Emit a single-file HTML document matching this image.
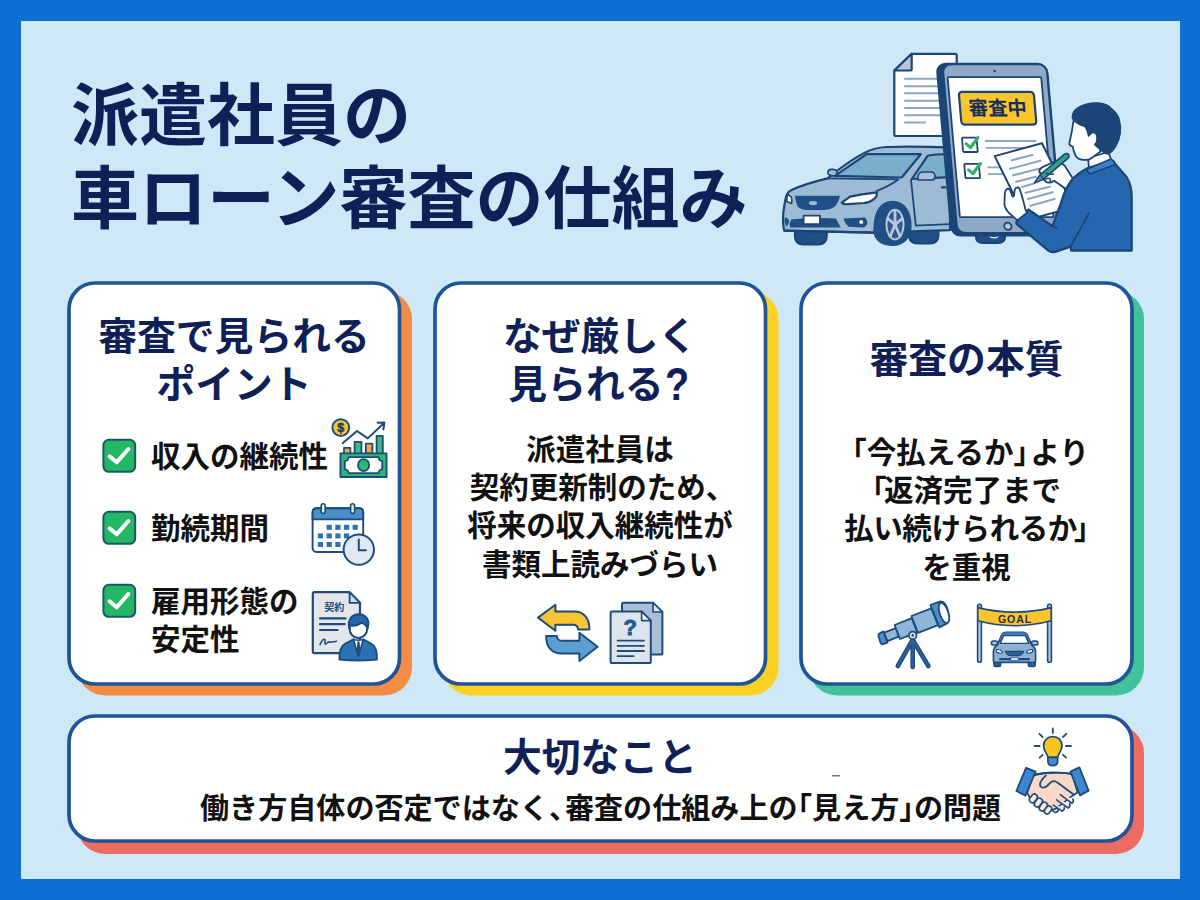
<!DOCTYPE html>
<html lang="ja">
<head>
<meta charset="utf-8">
<title>派遣社員の車ローン審査の仕組み</title>
<style>
html,body{margin:0;padding:0;}
body{width:1200px;height:900px;overflow:hidden;background:#0e6fd2;position:relative;
  font-family:"Liberation Sans","Noto Sans CJK JP",sans-serif;}
#stage{position:absolute;left:0;top:0;width:1200px;height:900px;overflow:hidden;}
#inner{position:absolute;left:20.5px;top:20.5px;width:1159px;height:858px;background:#cee8f8;}
svg#art{position:absolute;left:0;top:0;width:1200px;height:900px;}
.t{position:absolute;white-space:nowrap;font-weight:700;margin:0;}
.navy{color:#101f56;}
.blk{color:#111;}
.main{font-size:68px;line-height:83px;left:71px;letter-spacing:0;}
.h2{font-size:38.8px;line-height:47.5px;text-align:center;}
.body{font-size:29.5px;line-height:38.4px;text-align:center;}
.li{font-size:29.5px;line-height:38.2px;left:151px;}
.hl{margin-left:-0.5em;}
.hr{margin-right:-0.5em;}
.hc{margin-right:-0.45em;}
</style>
</head>
<body>
<div id="stage">
<div id="inner"></div>
<svg id="art" viewBox="0 0 1200 900" width="1200" height="900">
  <!-- card shadows -->
  <rect x="77" y="291" width="335" height="404.5" rx="28" fill="#f58c45"/>
  <rect x="443" y="291" width="335.5" height="404.5" rx="28" fill="#fdd024"/>
  <rect x="809" y="291" width="335" height="404.5" rx="28" fill="#41c29b"/>
  <rect x="77" y="725" width="1067" height="129" rx="28" fill="#ee6b62"/>
  <!-- cards -->
  <rect x="69" y="283" width="330.5" height="401" rx="26" fill="#fff" stroke="#1f5594" stroke-width="3.7"/>
  <rect x="435" y="283" width="330.5" height="401" rx="26" fill="#fff" stroke="#1f5594" stroke-width="3.7"/>
  <rect x="801" y="283" width="331" height="401" rx="26" fill="#fff" stroke="#1f5594" stroke-width="3.7"/>
  <rect x="69" y="716" width="1063" height="125" rx="26" fill="#fff" stroke="#1f5594" stroke-width="3.7"/>
  <!-- checkboxes -->
  <g id="checks" stroke-linecap="round" stroke-linejoin="round">
    <rect x="103.4" y="439.8" width="31.8" height="32" rx="5.5" fill="#22b864" stroke="#17596b" stroke-width="2"/>
    <path d="M109.6 456.3 L116.6 462.3 L128.4 449" fill="none" stroke="#fff" stroke-width="4"/>
    <rect x="103.4" y="511.8" width="31.8" height="32" rx="5.5" fill="#22b864" stroke="#17596b" stroke-width="2"/>
    <path d="M109.6 528.3 L116.6 534.3 L128.4 521" fill="none" stroke="#fff" stroke-width="4"/>
    <rect x="103.4" y="584.8" width="31.8" height="32" rx="5.5" fill="#22b864" stroke="#17596b" stroke-width="2"/>
    <path d="M109.6 601.3 L116.6 607.3 L128.4 594" fill="none" stroke="#fff" stroke-width="4"/>
  </g>
  <!-- money icon -->
  <g id="money" stroke="#1d4b7d" stroke-width="1.8" stroke-linejoin="round" stroke-linecap="round">
    <rect x="344" y="447.8" width="6.4" height="6" fill="#f6a93b"/>
    <rect x="354.6" y="441.8" width="6.8" height="12" fill="#3dbb7c"/>
    <rect x="365.8" y="443.6" width="6.6" height="10" fill="#f6a93b"/>
    <rect x="376.6" y="435.8" width="6.2" height="18" fill="#3dbb7c"/>
    <rect x="340.4" y="453.4" width="46.2" height="23.6" fill="#2fb574"/>
    <path d="M348.6 457.2 H378.6 Q378.8 461 382.2 461 V469.4 Q378.8 469.6 378.6 473.2 H348.6 Q348.4 469.6 344.8 469.4 V461 Q348.4 461 348.6 457.2 Z" fill="#fff"/>
    <ellipse cx="363.6" cy="465.2" rx="5.6" ry="6" fill="#2fb574"/>
    <path d="M342.6 443.2 L357 431 L367.8 438.4 L384.2 422.8 M377.6 422.8 L384.4 422.6 L383.4 429.4" fill="none" stroke-width="2"/>
    <circle cx="340.8" cy="427.6" r="8.4" fill="#f2c832" stroke-width="2"/>
  </g>
  <text x="340.8" y="432" text-anchor="middle" font-family="'Liberation Sans',sans-serif" font-weight="700" font-size="12.5" fill="#1d3b63" stroke="#1d3b63" stroke-width="0.5">$</text>
  <!-- calendar icon -->
  <g id="calendar" stroke="#1d4b7d" stroke-width="1.9" stroke-linejoin="round" stroke-linecap="round">
    <rect x="312.6" y="508.2" width="50.6" height="43.8" rx="4" fill="#fff"/>
    <path d="M312.6 519.4 V512.2 Q312.6 508.2 316.6 508.2 H359.2 Q363.2 508.2 363.2 512.2 V519.4 Z" fill="#4a8fc7"/>
    <rect x="321.2" y="503.8" width="4" height="9.6" rx="2" fill="#d6f3e0" stroke-width="1.6"/>
    <rect x="350.6" y="503.8" width="4" height="9.6" rx="2" fill="#d6f3e0" stroke-width="1.6"/>
    <g fill="#2a72b5" stroke="none">
      <rect x="326.6" y="524.8" width="5.2" height="5"/><rect x="335.3" y="524.8" width="5.2" height="5"/><rect x="344" y="524.8" width="5.2" height="5"/><rect x="352.6" y="524.8" width="5.2" height="5"/>
      <rect x="317.8" y="533.4" width="5.2" height="5"/><rect x="326.6" y="533.4" width="5.2" height="5"/><rect x="335.3" y="533.4" width="5.2" height="5"/><rect x="344" y="533.4" width="5.2" height="5"/>
      <rect x="317.8" y="542" width="5.2" height="5"/><rect x="326.6" y="542" width="5.2" height="5"/><rect x="335.3" y="542" width="5.2" height="5"/>
    </g>
    <circle cx="358.8" cy="549.6" r="15.2" fill="#e1e8f2" stroke-width="2"/>
    <path d="M358.8 539.6 V550.2 H366" fill="none" stroke-width="2"/>
  </g>
  <!-- contract icon -->
  <g id="contract" stroke="#1d4b7d" stroke-width="2.2" stroke-linejoin="round" stroke-linecap="round">
    <path d="M314.4 592.2 H349.6 L360 602.8 V653.2 H314.4 Q312.8 653.2 312.8 651.6 V593.8 Q312.8 592.2 314.4 592.2 Z" fill="#e3e6ea"/>
    <path d="M349.6 592.2 V602.8 H360 Z" fill="#cfdcec" stroke-width="1.8"/>
    <path d="M320 618.4 H345.6 M320 624.2 H344.6 M320 630 H337.6" fill="none"/>
    <path d="M320 644.6 C321.5 641 323.5 638.2 324.8 639.6 C326 641 323.8 644.2 325.6 644 C327.4 643.6 328 641.4 329.4 642 C330.6 642.6 331.4 642.2 336.4 641.2" fill="none" stroke-width="1.6"/>
  </g>
  <text x="334.2" y="611.4" text-anchor="middle" font-family="'Liberation Sans','Noto Sans CJK JP',sans-serif" font-weight="700" font-size="10" fill="#1d4b7d">契約</text>
  <g id="person1" stroke="#1d4b7d" stroke-width="2" stroke-linejoin="round" stroke-linecap="round">
    <path d="M339.6 659.6 C339.2 650 341 645.8 345.4 643.6 L353.6 639.4 L358.4 655.6 L363.2 639.4 L371 643.6 C375.6 645.8 377.2 650 376.8 659.6 C366 660.6 350 660.6 339.6 659.6 Z" fill="#2a72b8"/>
    <path d="M353.6 639.4 L358.4 655.6 L363.2 639.4 C361 640.6 356 640.6 353.6 639.4 Z" fill="#fff" stroke-width="1.4"/>
    <path d="M357.4 641.6 H359.6 L360.2 650 L358.4 654.6 L356.8 650 Z" fill="#1d4b7d" stroke="none"/>
    <ellipse cx="358.4" cy="628.8" rx="8.8" ry="9.2" fill="#fff"/>
    <path d="M349.4 628.4 C347.2 620 351.6 614.4 358.6 614.2 C365.8 614.2 370.2 620 367.6 628.4 C366.4 625.6 364.4 623.6 361.8 622.8 C358.4 625.2 353.6 626 351 625.2 C350.2 626 349.8 627 349.4 628.4 Z" fill="#2566a8"/>
  </g>
  <!-- swap arrows -->
  <g id="swap" stroke="#1d4b7d" stroke-width="2" stroke-linejoin="round" stroke-linecap="round">
    <path d="M538 617.6 L555.4 604.8 V611.6 H574 C584 611.6 589.6 618.4 589.4 629.4 H578 C578 626.6 576.4 624.8 573 624.8 H555.4 V630.8 Z" fill="#f7c531"/>
    <path d="M597.6 646.8 L579.4 661 V653.6 H562 C551.6 653.6 546 647 546.2 636 H556.8 C557 639 558.8 640.8 562.4 640.8 H579.4 V632.8 Z" fill="#5b9fd3"/>
  </g>
  <!-- question docs -->
  <g id="qdocs" stroke="#1d4b7d" stroke-width="2" stroke-linejoin="round" stroke-linecap="round">
    <path d="M623.6 602.8 H653 L662.4 612 V653 Q662.4 654.6 660.8 654.6 H623.6 Q622 654.6 622 653 V604.4 Q622 602.8 623.6 602.8 Z" fill="#a9bfd6"/>
    <path d="M653 602.8 V612 H662.4 Z" fill="#dbe6f2" stroke-width="1.6"/>
    <path d="M612.2 611.4 H641.6 L650.8 620.6 V661.4 Q650.8 663 649.2 663 H612.2 Q610.6 663 610.6 661.4 V613 Q610.6 611.4 612.2 611.4 Z" fill="#dde4ec"/>
    <path d="M641.6 611.4 V620.6 H650.8 Z" fill="#f3f6fa" stroke-width="1.6"/>
    <path d="M617.6 640.6 H644 M617.6 645.8 H644 M617.6 651 H644 M617.6 656.2 H633.6" fill="none" stroke-width="1.8"/>
  </g>
  <text x="630.2" y="635" text-anchor="middle" font-family="'Liberation Sans',sans-serif" font-weight="700" font-size="22" fill="#1f5b98" stroke="#1f5b98" stroke-width="0.9">?</text>
  <!-- telescope -->
  <g id="telescope" stroke="#1d4b7d" stroke-width="1.8" stroke-linejoin="round" stroke-linecap="round">
    <path d="M912.6 640 L897.8 666 M912.7 640 V667 M912.8 640 L928.4 666" fill="none" stroke="#1d4b7d" stroke-width="4.6"/>
    <path d="M912.6 640 L897.8 666 M912.7 640 V667 M912.8 640 L928.4 666" fill="none" stroke="#2c609c" stroke-width="2"/>
    <path d="M884 632.6 L896 628.2 L898.8 636.6 L887.4 641.2 Z" fill="#8db7d8"/>
    <path d="M879.4 633.6 L883.4 631.4 L887.4 642.6 L883.2 644.2 Q881 644.6 880.4 642.6 L878.4 636 Q878 634.2 879.4 633.6 Z" fill="#4a8fc7"/>
    <path d="M894.6 625 L911.8 618.2 L917.2 632.4 L900 639 Z" fill="#8db7d8"/>
    <path d="M911.4 616 L931.4 608.4 L938 625.2 L918 632.8 Z" fill="#8db7d8"/>
    <path d="M930.4 605 L939.6 601.6 C944 600.6 947.6 606 948.4 613.6 C949 619.6 948.4 622.6 946.6 623.6 L939.4 627.4 Z" fill="#4a8fc7"/>
    <ellipse cx="944" cy="613" rx="4.3" ry="10.6" transform="rotate(-18 944 613)" fill="#fff"/>
    <circle cx="912.7" cy="635.4" r="3.8" fill="#dfe8f2"/>
    <circle cx="912.7" cy="635.4" r="1.3" fill="#1d4b7d" stroke="none"/>
  </g>
  <!-- goal gate -->
  <g id="goal" stroke="#1d4b7d" stroke-width="1.6" stroke-linejoin="round" stroke-linecap="round">
    <rect x="977.6" y="604.2" width="3.8" height="58" rx="1.8" fill="#a9c9ea"/>
    <rect x="1047.6" y="604.2" width="3.8" height="58" rx="1.8" fill="#a9c9ea"/>
    <path d="M977.8 607.6 Q1014.4 616.6 1051.2 607.6 V620.8 Q1014.4 630.6 977.8 620.8 Z" fill="#fbc62c"/>
    <!-- car -->
    <rect x="994" y="661" width="6.6" height="5.4" rx="1.4" fill="#2a62a0"/>
    <rect x="1028.4" y="661" width="6.8" height="5.4" rx="1.4" fill="#2a62a0"/>
    <rect x="991.4" y="641" width="6.2" height="4" rx="1.8" fill="#a9c3dd"/>
    <rect x="1031.6" y="641" width="6.2" height="4" rx="1.8" fill="#a9c3dd"/>
    <path d="M997.4 645 L1001.4 635.4 Q1002.8 632.2 1006.4 632.2 H1022.6 Q1026.2 632.2 1027.6 635.4 L1031.6 645 Q1035.6 647.6 1035.6 652 V660.4 Q1035.6 662.4 1033.6 662.4 H995.4 Q993.4 662.4 993.4 660.4 V652 Q993.4 647.6 997.4 645 Z" fill="#8fb0d0"/>
    <path d="M1001.4 635.4 Q1002.8 632.2 1006.4 632.2 H1022.6 Q1026.2 632.2 1027.6 635.4 L1029.2 639.2 L1027.6 643.4 H1001.4 L999.8 639.2 Z" fill="#3b79b8" stroke="none"/>
    <path d="M1003.6 635.6 H1025.4 L1028.8 643.4 H1000.2 Z" fill="#fff" stroke-width="1.4"/>
    <path d="M996.4 649.6 Q999.8 649 1002.6 651.8 L1001.6 653.2 Q998.4 653.4 996.4 652 Z" fill="#fff" stroke-width="1.2"/>
    <path d="M1032.6 649.6 Q1029.2 649 1026.4 651.8 L1027.4 653.2 Q1030.6 653.4 1032.6 652 Z" fill="#fff" stroke-width="1.2"/>
    <path d="M1005.4 651.4 H1023.6 Q1021.6 655.6 1017.6 655.6 H1011.4 Q1007.4 655.6 1005.4 651.4 Z" fill="#2a62a0" stroke-width="1.2"/>
    <rect x="999" y="658" width="31" height="2.2" rx="1" fill="#1d4b7d" stroke="none"/>
    <rect x="1011" y="657.8" width="7.4" height="2.6" fill="#fff" stroke-width="0.8"/>
  </g>
  <text x="1015" y="622.5" text-anchor="middle" font-family="'Liberation Sans',sans-serif" font-weight="700" font-size="10.6" letter-spacing="0.9" fill="#22314f">GOAL</text>
  <!-- bulb + handshake -->
  <g id="bulb" stroke="#1d4b7d" stroke-width="1.8" stroke-linejoin="round" stroke-linecap="round">
    <path d="M1052.8 728.4 V733 M1039.4 733.8 L1042.6 737 M1066.4 733.8 L1063 737 M1034.6 746 H1039.6 M1066 746 H1071 M1039.6 757.6 L1042.6 754.8 M1066 757.6 L1063 754.8" fill="none"/>
    <path d="M1048 757.4 C1047.4 753.6 1043.6 751.4 1043.6 745.8 C1043.6 740.4 1047.6 736.6 1052.8 736.6 C1058 736.6 1062 740.4 1062 745.8 C1062 751.4 1058.2 753.6 1057.6 757.4 Z" fill="#fbc51f"/>
    <path d="M1048 757.4 H1057.6 V761.4 Q1057.4 765.6 1052.8 765.6 Q1048.2 765.6 1048 761.4 Z" fill="#4a8bd0"/>
  </g>
  <g id="shake" stroke="#1d4b7d" stroke-width="1.8" stroke-linejoin="round" stroke-linecap="round">
    <path d="M1033 775.6 C1040 772.4 1064 771.6 1072.4 774.4 L1077.6 792.6 L1070 797.6 L1056 808.6 L1046 812.4 L1030.4 799 L1027.2 792.6 Z" fill="#f9d9c6"/>
    <path d="M1033 775.6 C1040 772.4 1064 771.6 1072.4 774.4" fill="none"/>
    <!-- left hand fingers (bottom) -->
    <g fill="#fdebe0" stroke-width="1.6">
      <rect x="-3" y="-4.6" width="6" height="9.2" rx="3" transform="translate(1033.4 798.4) rotate(38)"/>
      <rect x="-3" y="-4.8" width="6" height="9.6" rx="3" transform="translate(1038.4 802.6) rotate(38)"/>
      <rect x="-3" y="-4.8" width="6" height="9.6" rx="3" transform="translate(1043.4 806.6) rotate(38)"/>
      <rect x="-2.8" y="-4.2" width="5.6" height="8.4" rx="2.8" transform="translate(1048 810) rotate(38)"/>
    </g>
    <!-- right hand fingers -->
    <path d="M1060.4 794.6 L1072 803.4 Q1074.4 801.4 1072.8 799 M1056.6 799.8 L1068.2 808 Q1070.8 806 1069.6 803.8 M1053.4 805.2 L1062 811.2 Q1065 809.6 1064.2 807.4 M1052 810.4 L1055.6 812.6 Q1058.6 811.6 1058.2 809.4" fill="#fdebe0" stroke-width="1.6"/>
    <!-- thumb / clasp -->
    <path d="M1046 775.4 C1042 779 1040 782.6 1040 785 C1040.4 788 1044.4 788.4 1047 786 L1051 782.2 C1053 780.6 1055.4 781 1057.4 782.6 L1073.6 794.4" fill="none" stroke-width="1.8"/>
    <path d="M1026 767.8 L1035.6 771.6 L1025.4 795.6 L1016.4 791 Z" fill="#3f86d0"/>
    <path d="M1070.4 771.6 L1079.4 767.4 L1088.6 790.6 L1080 795.4 Z" fill="#3f86d0"/>
  </g>
  <rect x="832" y="775.2" width="8" height="1.2" fill="#555"/>
<!--HERO_START-->
  <!-- ===== header illustration ===== -->
  <g id="hero" stroke="#1b4577" stroke-width="2.2" stroke-linejoin="round" stroke-linecap="round">
    <!-- back document -->
    <path d="M911.7 53.8 H955.2 Q956.7 53.8 956.7 55.3 V134.5 Q956.7 136 955.2 136 H895.8 Q894.3 136 894.3 134.5 V70.5 Z" fill="#fff"/>
    <path d="M911.7 53.8 V69 Q911.7 70.5 910.2 70.5 H894.3 Z" fill="#b4c6db"/>
    <path d="M904.2 78.7 H940 M904.2 86.2 H940 M904.2 93.3 H940 M904.2 100.8 H940 M904.2 108 H940 M904.2 115.2 H940 M904.2 122.5 H925.8" fill="none" stroke="#8da4c4" stroke-width="2" stroke-linecap="butt"/>

    <!-- car: far wheels -->
    <path d="M795 231 H826.7 V236 Q826.7 244.4 818 244.4 H803.6 Q795 244.4 795 236 Z" fill="#1f4f85"/>
    <path d="M909 229 H938.4 V235 Q938.4 243.4 929.6 243.4 H917.8 Q909 243.4 909 235 Z" fill="#1f4f85"/>
    <!-- car body -->
    <path d="M784.4 230.6 C782.6 226 782.6 214 784.2 206.6 C785 201 785.6 197.4 786.8 194.6 C788 192 789.6 190.8 792 189.8 C802 185.4 815 181.4 827.6 178.4 C840 168 851 160 863.4 153.4 C870 149.6 878 147.4 886.8 147 C905 146.2 925 146.4 950 147.6 V230.2 L873 232.6 Z" fill="#9ebbd6"/>
    <!-- left far mirror -->
    <path d="M836.4 175.6 Q829.6 176.6 828 173.6 Q827 170 831 169.4 Q835.6 169 837 171 Z" fill="#9ebbd6" stroke-width="1.6"/>
    <!-- windshield -->
    <path d="M835 175.8 L866.7 154.2 H920.8 L901.7 177.5 Z" fill="#7badcd"/>
    <!-- side window -->
    <path d="M911.8 179 L927.6 155.8 Q935 154 950 154 V177.2 Z" fill="#7badcd"/>
    <!-- door -->
    <path d="M911 180 Q913.6 205 915.8 225.6 L950 224.2" fill="none" stroke-width="1.8"/>
    <path d="M942 187.4 H945.4" fill="none" stroke-width="2.2"/>
    <!-- side mirror -->
    <path d="M918 180 Q917 172.6 922.6 172 H931 Q935.6 172.4 935 177.4 Q934.6 180 931.6 180 Z" fill="#a9c2da" stroke-width="1.6"/>
    <!-- hood lines -->
    <path d="M827.6 178.4 L898.4 179.4 C892 184 884 188 876.8 190.8" fill="none" stroke-width="1.8"/>
    <!-- headlights -->
    <path d="M841.8 202.6 L850 196.6 Q864 193.6 876.8 192.4 Q877.6 196 873.6 199.4 Q870 202.4 864 203 L848.4 204.2 Q843 204.6 841.8 202.6 Z" fill="#fff" stroke-width="2.2"/>
    <path d="M787.6 194.4 L791.2 196.8 Q792.4 200 791.6 203.4 L786.8 201.6 Q786.6 197.6 787.6 194.4 Z" fill="#fff" stroke-width="1.6"/>
    <!-- grille -->
    <path d="M795 195.8 H840 Q838.6 203 834.4 207 Q830 210 825 210 H806.8 Q801 209.6 797.6 206.4 Q795.4 201.6 795 195.8 Z" fill="#1f4f85" stroke="none"/>
    <ellipse cx="813" cy="203" rx="4.2" ry="2" fill="#9ebbd6" stroke="none"/>
    <!-- lower intake -->
    <path d="M791 219.4 Q813 217.2 835.8 218.4 L840.8 227.4 H790 Q789 223.4 791 219.4 Z" fill="#1f4f85" stroke="none"/>
    <path d="M784.6 217.6 Q788.4 218 789 221 Q789 224.6 786 226.6 Q784 222 784.6 217.6 Z" fill="#1f4f85" stroke="none"/>
    <path d="M843.4 218.4 L865 217.6 Q867.6 220 867.4 223.4 Q866 227 863.2 227.4 L848.4 226.8 Q844.6 223 843.4 218.4 Z" fill="#1f4f85" stroke="none"/>
    <circle cx="861.2" cy="222" r="2" fill="#fff" stroke="none"/>
    <rect x="803.6" y="215.6" width="16.4" height="8.6" fill="#fff" stroke-width="1.8"/>
    <!-- front wheel -->
    <path d="M873.4 231 C873 212 880 201 892.6 200.8 C905 200.8 911.6 212 911.6 226 C911.6 238 904 246 893 246 C881 246 873.8 240 873.4 231 Z" fill="#1f4f85" stroke="none"/>
    <ellipse cx="895" cy="224.6" rx="8.6" ry="14.8" fill="#2c5a92" stroke="#b9c9db" stroke-width="2"/>
    <path d="M895 224.6 L895 210.4 M895 224.6 L902.6 218.4 M895 224.6 L900.4 237 M895 224.6 L889.8 237.2 M895 224.6 L887.4 218.2" fill="none" stroke="#b9c9db" stroke-width="2.8" stroke-linecap="butt"/>
    <ellipse cx="895" cy="224.6" rx="2.2" ry="3.2" fill="#b9c9db" stroke="none"/>
    <!-- body bottom line -->
    <path d="M784.4 230.6 L873 232.6" fill="none"/>

    <!-- thing under tablet -->
    <path d="M976 234 H1005 V236 Q1005 243 998 243 H983 Q976 243 976 236 Z" fill="#1f4f85"/>
    <path d="M990 236.6 Q994 239 998 236.6" fill="none" stroke="#cfe3f3" stroke-width="1.6"/>

    <!-- tablet (skewed) -->
    <g transform="matrix(1 0 0.088 1 -5.6 0)">
      <rect x="936.6" y="63.9" width="110" height="171.6" rx="9" fill="#1b4577"/>
      <rect x="942.6" y="64.4" width="103.6" height="168.6" rx="8" fill="#8fa9c7" stroke-width="1.8"/>
      <rect x="946.4" y="77.2" width="93.6" height="140" rx="1" fill="#fff" stroke-width="1.8"/>
      <circle cx="994" cy="71" r="1.3" fill="#1b4577" stroke="none"/>
      <circle cx="993.6" cy="226.2" r="3.6" fill="#b9c8db" stroke-width="1.8"/>
      <!-- badge -->
      <rect x="956.2" y="91.8" width="75" height="32.8" rx="3.4" fill="#fbc52e"/>
      <text x="993.8" y="115.4" text-anchor="middle" font-family="'Liberation Sans','Noto Sans CJK JP',sans-serif" font-weight="700" font-size="19.4" fill="#14305a" stroke="none">審査中</text>
      <!-- checkboxes -->
      <rect x="955.4" y="137.6" width="14.6" height="14.4" rx="1" fill="#fff" stroke-width="1.8"/>
      <rect x="955.4" y="163.8" width="14.6" height="14.4" rx="1" fill="#fff" stroke-width="1.8"/>
      <path d="M978.2 141 H1029.4 M978.2 147.8 H1022" fill="none" stroke="#8aa5c8" stroke-width="1.8" stroke-linecap="butt"/>
      <path d="M978.2 167.3 H1000 M978.2 174.2 H1000" fill="none" stroke="#8aa5c8" stroke-width="1.8" stroke-linecap="butt"/>
      <path d="M959.2 143.8 L963.2 147.6 L971.4 137.6" fill="none" stroke="#2fb36c" stroke-width="3.2"/>
      <path d="M959.2 169.9 L963.2 173.7 L971.6 163.4" fill="none" stroke="#2fb36c" stroke-width="3.2"/>
    </g>

    <!-- paper in hand -->
    <path d="M994.7 156.1 L1042 143.3 L1073.7 207.3 L1026.4 220.1 Z" fill="#fff" stroke-width="2"/>
    <path d="M1010.9 160.5 L1033.3 154.7 M1009.2 169.1 L1041.3 160.5 M1012.1 175.6 L1039.8 168.4 M1015.3 182.1 L1036.9 176.4 M1021.3 187.2 L1034 183.6 M1024.7 193 L1050.7 186.5 M1027.1 199.2 L1053.6 192 M1029.7 206 L1055.4 198.8" fill="none" stroke="#8da4c4" stroke-width="2.1" stroke-linecap="butt"/>

    <!-- right hand + pen -->
    <path d="M1075 182 L1064.6 165.6 Q1060 161.4 1054.2 161.8 L1041.9 167.4 Q1038.6 169.6 1039.4 172.4 L1044.8 175.2 Q1043 178 1044 180 Q1046 182.8 1048.6 182.6 Q1051.6 183 1054.2 180.8 L1066 189 Z" fill="#fff" stroke-width="1.8"/>
    <path d="M1034.4 183 L1040.2 174.8 L1064.2 154.4 Q1067 152.6 1068.6 154.6 Q1069.8 156.6 1067.6 158.6 L1043.4 179.2 Z" fill="#2fa386" stroke-width="1.6"/>
    <path d="M1034.4 183 L1040.2 174.8 L1043.4 179.2 Z" fill="#5f8f90" stroke-width="1.2"/>
    <path d="M1046 173.2 Q1050 175 1053.4 174 M1044.6 180.4 Q1046.4 177.4 1049.4 178.4 Q1051.4 180 1050 182.4" fill="none" stroke-width="1.5"/>

    <!-- person: neck, face -->
    <path d="M1088 158 L1089.2 170 L1112 162 L1108.4 152 Z" fill="#fff" stroke-width="1.8"/>
    <path d="M1073.4 121 C1072.6 128 1071.4 135 1069.4 142.6 Q1069 145.6 1072.8 146.6 Q1073.4 151 1075 154.2 Q1076.6 158.4 1080.6 159.4 Q1085 160.4 1089.4 159.4 L1100 152 L1102 122 L1084 112 Z" fill="#fff" stroke-width="1.8"/>
    <!-- hair -->
    <path d="M1072.2 118.3 C1072 113.6 1073.6 110.8 1076.6 108.6 C1082 104.6 1090 102.6 1097.7 102.8 C1103.6 103 1108.2 105 1110.9 107.9 C1116 112 1119 116 1119.6 121 C1121 126 1120.8 130 1120.3 133.4 C1119.6 139 1117.6 143.4 1115.6 146.7 C1113.6 150 1111 153 1108.1 154.2 C1104.6 153.6 1101.4 151.4 1099.6 149 C1097.6 147.6 1095.6 146 1094.6 144.4 C1097 142.4 1097.6 138 1096.2 134.6 Q1094 131.4 1091.2 133.6 Q1089.6 135.4 1088.4 136.2 C1087.6 131.6 1086.4 128.4 1084.6 126.4 C1080.4 126 1075 122.6 1072.2 118.3 Z" fill="#1b4577" stroke-width="1.2"/>

    <!-- jacket -->
    <path d="M1087 168.4 C1080 172 1075 176 1071.2 180.7 C1066 188 1062.6 197 1060.8 203.3 L1052.4 226.2 L1028.4 209.4 L1016.6 221.8 Q1015.8 223.4 1017.4 224.6 L1048 250.4 Q1051.6 253.2 1056 251.6 L1070.6 246.6 L1071.2 250.6 H1131.7 V197 C1131.6 188 1129.6 181.6 1126.6 177 L1115.6 164.6 L1112.4 160.6 Z" fill="#2566ae"/>
    <path d="M1086.4 169.6 L1111 159 Q1113.8 160.4 1115.6 164.6 L1089.6 174 Z" fill="#3b7fca" stroke-width="1.6"/>
    <path d="M1089.2 212.8 L1071 246" fill="none" stroke-width="1.6"/>
    <path d="M1052.4 226.2 L1057 228.4" fill="none" stroke-width="1.6"/>

    <!-- left hand -->
    <path d="M1017.4 220.4 L1009 213 Q1004.6 208 1004.4 203.6 L1004.8 193.6 Q1005.4 189 1008 188.6 Q1010 188.6 1010.8 192 L1012.2 196 Q1013.4 197.6 1014 195.4 L1014.8 189.6 Q1015.6 187.4 1017.4 187.4 Q1019.6 187.6 1020.2 190.6 L1023.2 200.6 L1025.6 210 L1027 212.6 Z" fill="#fff" stroke-width="1.8"/>
  </g>
<!--HERO_END-->

</svg>

<h1 class="t navy main" style="top:75px;">派遣社員の<br>車ローン審査の仕組み</h1>

<h2 class="t navy h2" style="left:67px;width:334px;top:313px;">審査で見られる<br>ポイント</h2>
<div class="t blk li" style="top:437.5px;">収入の継続性</div>
<div class="t blk li" style="top:509.5px;">勤続期間</div>
<div class="t blk li" style="top:582.5px;">雇用形態の<br>安定性</div>

<h2 class="t navy h2" style="left:433px;width:334px;top:313px;">なぜ厳しく<br>見られる<span style="display:inline-block;font-size:46px;line-height:30px;height:30px;transform:scaleX(0.86);transform-origin:left center;position:relative;top:2.2px;left:1.8px">?</span></h2>
<p class="t blk body" style="left:433px;width:334px;top:430.5px;">派遣社員は<br><span style="position:relative;left:2.5px">契約更新制のため、</span><br>将来の収入継続性が<br>書類上読みづらい</p>

<h2 class="t navy h2" style="left:799px;width:335px;top:336px;">審査の本質</h2>
<p class="t blk body" style="left:799px;width:335px;top:433.5px;"><span style="position:relative;left:4px"><span class="hl">「</span>今払えるか<span class="hr" style="margin-right:-0.42em">」</span>より</span><br><span class="hl" style="margin-right:-0.1em">「</span>返済完了まで<br><span style="letter-spacing:-0.4px">払い続けられるか</span><span class="hr" style="margin-left:-0.1em">」</span><br>を重視</p>

<h2 class="t navy h2" style="left:400px;width:400px;top:733.5px;">大切なこと</h2>
<p class="t blk body" style="left:67px;width:1067px;top:789.5px;text-align:left;padding-left:133px;font-size:29.08px;box-sizing:border-box;">働き方自体の否定ではなく<span class="hc">、</span>審査の仕組み上の<span class="hl">「</span>見え方<span class="hr">」</span>の問題</p>
</div>
</body>
</html>
